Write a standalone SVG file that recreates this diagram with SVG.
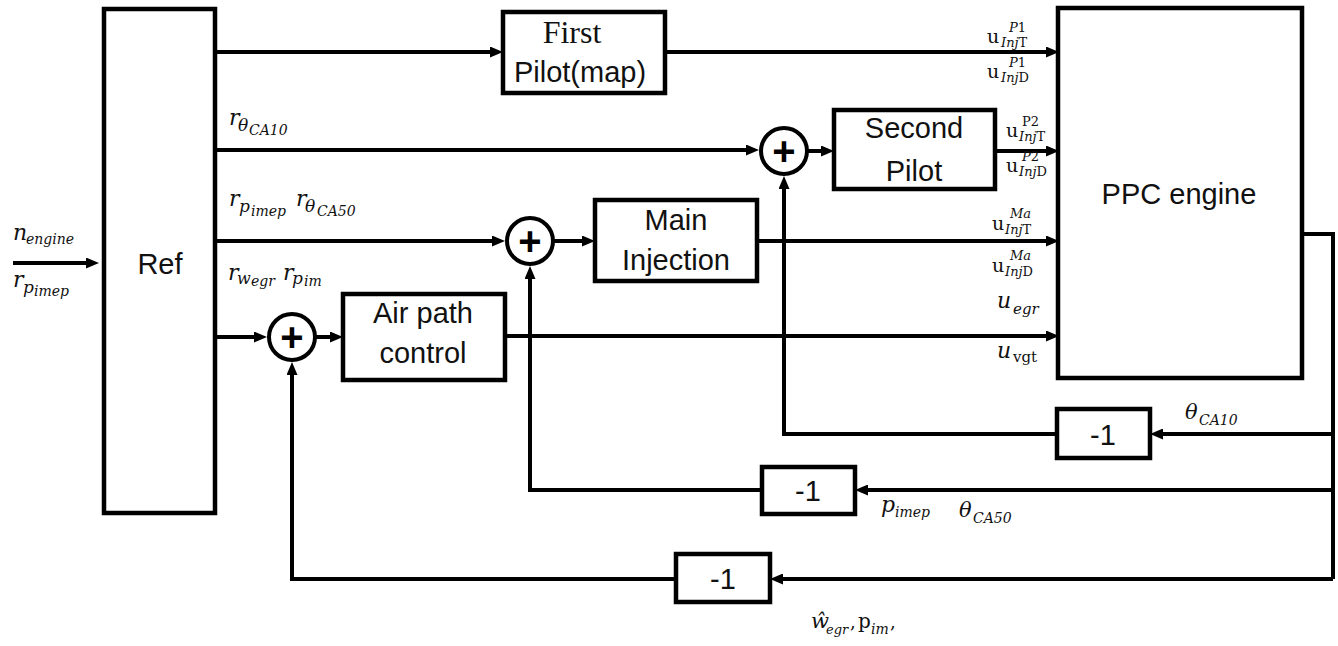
<svg xmlns="http://www.w3.org/2000/svg" width="1338" height="646" viewBox="0 0 1338 646">
<defs>
<style>
.box{fill:#fff;stroke:#000;stroke-width:4.5}
.sum{fill:#fff;stroke:#000;stroke-width:4}
.ln{fill:none;stroke:#000;stroke-width:4}
.lbl{font-family:"Liberation Sans",Arial,sans-serif;font-size:29px;fill:#111;text-anchor:middle}
.plus{font-family:"Liberation Sans",Arial,sans-serif;font-size:40px;font-weight:bold;fill:#000;text-anchor:middle}
.m{font-family:"DejaVu Serif","Liberation Serif",serif;font-style:italic;fill:#111}
.up{font-style:normal}
</style>
<marker id="ah" viewBox="0 0 13 11" refX="5" refY="5.5" markerWidth="13" markerHeight="11" markerUnits="userSpaceOnUse" orient="auto">
<path d="M0,0 L13,5.5 L0,11 z" fill="#000"/>
</marker>
</defs>
<rect width="1338" height="646" fill="#fff"/>

<g id="connectors">
<path class="ln" d="M13,263 H91" marker-end="url(#ah)"/>
<path class="ln" d="M216,52 H495" marker-end="url(#ah)"/>
<path class="ln" d="M665,52 H1051" marker-end="url(#ah)"/>
<path class="ln" d="M216,150 H751" marker-end="url(#ah)"/>
<path class="ln" d="M807,151 H826" marker-end="url(#ah)"/>
<path class="ln" d="M995,151 H1051" marker-end="url(#ah)"/>
<path class="ln" d="M216,241 H497" marker-end="url(#ah)"/>
<path class="ln" d="M553,241 H587" marker-end="url(#ah)"/>
<path class="ln" d="M757,241 H1051" marker-end="url(#ah)"/>
<path class="ln" d="M216,337 H259" marker-end="url(#ah)"/>
<path class="ln" d="M315,337 H335" marker-end="url(#ah)"/>
<path class="ln" d="M505,336 H1051" marker-end="url(#ah)"/>
<path class="ln" d="M1302,234 H1333 V579"/>
<path class="ln" d="M1333,434 H1158" marker-end="url(#ah)"/>
<path class="ln" d="M1057,434 H784 V184" marker-end="url(#ah)"/>
<path class="ln" d="M1333,490 H863" marker-end="url(#ah)"/>
<path class="ln" d="M762,490 H530 V274" marker-end="url(#ah)"/>
<path class="ln" d="M1333,579 H778" marker-end="url(#ah)"/>
<path class="ln" d="M676,579 H292 V370" marker-end="url(#ah)"/>
</g>

<g id="ref">
<rect class="box" x="104" y="9" width="111" height="504"/>
<text class="lbl" x="160" y="274" font-size="30">Ref</text>
</g>

<g id="first-pilot">
<rect class="box" x="503" y="12" width="162" height="81"/>
<text class="lbl" x="572" y="43" style="font-family:'Liberation Serif',serif;font-size:32px">First</text>
<text class="lbl" x="580" y="82">Pilot(map)</text>
</g>

<g id="second-pilot">
<rect class="box" x="834" y="110" width="161" height="79"/>
<text class="lbl" x="914" y="138">Second</text>
<text class="lbl" x="914" y="181">Pilot</text>
</g>

<g id="main-injection">
<rect class="box" x="595" y="200" width="162" height="81"/>
<text class="lbl" x="676" y="230">Main</text>
<text class="lbl" x="676" y="270">Injection</text>
</g>

<g id="air-path">
<rect class="box" x="343" y="294" width="162" height="86"/>
<text class="lbl" x="423" y="323">Air path</text>
<text class="lbl" x="423" y="363">control</text>
</g>

<g id="ppc-engine">
<rect class="box" x="1058" y="8" width="244" height="370"/>
<text class="lbl" x="1179" y="204">PPC engine</text>
</g>

<g id="sum-second">
<circle class="sum" cx="784" cy="151" r="23"/>
<text class="plus" x="784" y="165">+</text>
</g>
<g id="sum-main">
<circle class="sum" cx="530" cy="241" r="23"/>
<text class="plus" x="530" y="255">+</text>
</g>
<g id="sum-air">
<circle class="sum" cx="292" cy="337" r="23"/>
<text class="plus" x="292" y="351">+</text>
</g>

<g id="gain1">
<rect class="box" x="1057" y="409" width="93" height="49"/>
<text class="lbl" x="1103" y="445" font-size="30">-1</text>
</g>
<g id="gain2">
<rect class="box" x="762" y="467" width="93" height="47"/>
<text class="lbl" x="808" y="501" font-size="30">-1</text>
</g>
<g id="gain3">
<rect class="box" x="676" y="554" width="94" height="48"/>
<text class="lbl" x="723" y="589" font-size="30">-1</text>
</g>

<g id="labels">
<text class="m"><tspan x="13" y="240" font-size="22">n</tspan><tspan x="26" y="244" font-size="14">engine</tspan></text>
<text class="m"><tspan x="13" y="287" font-size="22">r</tspan><tspan x="23" y="293" font-size="17">p</tspan><tspan x="34" y="296" font-size="14">imep</tspan></text>

<text class="m"><tspan x="229" y="125" font-size="22">r</tspan><tspan x="238" y="131" font-size="17">θ</tspan><tspan x="249" y="135" font-size="14">CA10</tspan></text>
<text class="m"><tspan x="229" y="206" font-size="22">r</tspan><tspan x="239" y="212" font-size="17">p</tspan><tspan x="251" y="216" font-size="14">imep</tspan><tspan x="296" y="206" font-size="22">r</tspan><tspan x="305" y="212" font-size="17">θ</tspan><tspan x="317" y="216" font-size="14">CA50</tspan></text>
<text class="m"><tspan x="228" y="280" font-size="22">r</tspan><tspan x="237" y="284" font-size="16">w</tspan><tspan x="251" y="286" font-size="14">egr</tspan><tspan x="283" y="280" font-size="22">r</tspan><tspan x="292" y="284" font-size="17">p</tspan><tspan x="304" y="286" font-size="14">im</tspan></text>

<text class="m" font-size="13"><tspan x="987" y="43" class="up" font-size="19">u</tspan><tspan x="1009" y="32">P<tspan class="up">1</tspan></tspan><tspan x="1001" y="47">Inj<tspan class="up">T</tspan></tspan></text>
<text class="m" font-size="13"><tspan x="987" y="78" class="up" font-size="19">u</tspan><tspan x="1009" y="67">P<tspan class="up">1</tspan></tspan><tspan x="1001" y="82">Inj<tspan class="up">D</tspan></tspan></text>
<text class="m" font-size="13"><tspan x="1006" y="137" class="up" font-size="19">u</tspan><tspan x="1022" y="126" class="up">P2</tspan><tspan x="1019" y="141">Inj<tspan class="up">T</tspan></tspan></text>
<text class="m" font-size="13"><tspan x="1006" y="172" class="up" font-size="19">u</tspan><tspan x="1022" y="161">P<tspan class="up">2</tspan></tspan><tspan x="1019" y="176">Inj<tspan class="up">D</tspan></tspan></text>
<text class="m" font-size="13"><tspan x="992" y="230" class="up" font-size="19">u</tspan><tspan x="1010" y="218">Ma</tspan><tspan x="1005" y="234">Inj<tspan class="up">T</tspan></tspan></text>
<text class="m" font-size="13"><tspan x="992" y="272" class="up" font-size="19">u</tspan><tspan x="1010" y="260">Ma</tspan><tspan x="1005" y="276">Inj<tspan class="up">D</tspan></tspan></text>
<text class="m"><tspan x="997" y="308" font-size="22">u</tspan><tspan x="1013" y="314" font-size="15">egr</tspan></text>
<text class="m"><tspan x="997" y="358" font-size="22">u</tspan><tspan x="1013" y="362" font-size="15" class="up">vgt</tspan></text>

<text class="m"><tspan x="1185" y="419" font-size="21">θ</tspan><tspan x="1199" y="425" font-size="14">CA10</tspan></text>
<text class="m"><tspan x="881" y="512" font-size="22">p</tspan><tspan x="895" y="517" font-size="14">imep</tspan></text>
<text class="m"><tspan x="959" y="517" font-size="21">θ</tspan><tspan x="973" y="523" font-size="14">CA50</tspan></text>
<text class="m"><tspan x="811" y="628" font-size="21">ŵ</tspan><tspan x="826" y="634" font-size="13">egr</tspan><tspan x="850" y="628" font-size="18" class="up">,</tspan><tspan x="858" y="628" font-size="20" class="up">p</tspan><tspan x="871" y="634" font-size="14">im</tspan><tspan x="890" y="628" font-size="18" class="up">,</tspan></text>
</g>
</svg>
